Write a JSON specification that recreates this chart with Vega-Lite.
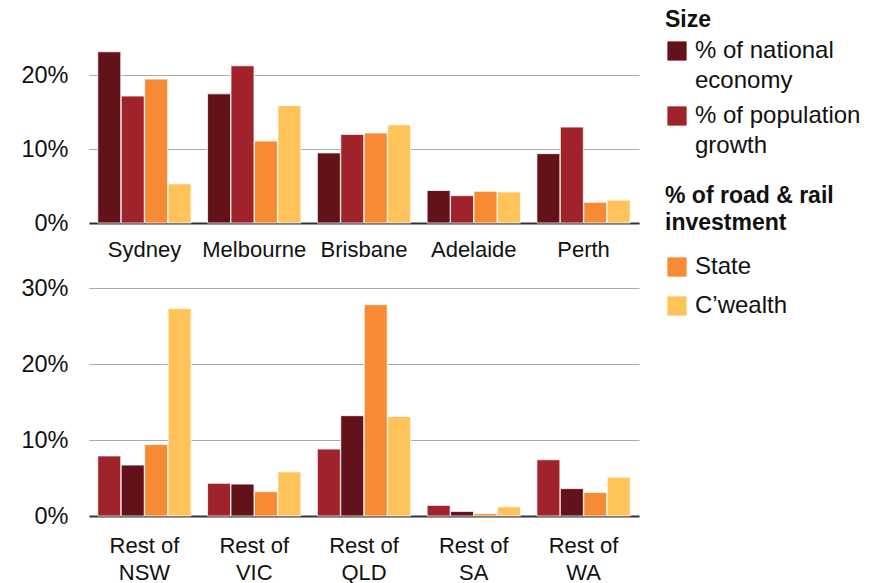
{
  "$schema": "https://vega.github.io/schema/vega-lite/v6.json",
  "background": "white",
  "padding": {"left": 20, "top": 9, "right": 5, "bottom": 5},
  "config": {
    "font": "Liberation Sans",
    "view": {"stroke": null},
    "style": {"guide-label": {"lineHeight": 30}},
    "bar": {"stroke": "white", "strokeWidth": 1, "strokeOpacity": 0.75},
    "axisX": {
      "title": null,
      "domain": true,
      "domainColor": "#333333",
      "domainWidth": 2,
      "ticks": false,
      "grid": false,
      "labelAngle": 0,
      "labelFontSize": 22,
      "labelColor": "#111111",
      "labelPadding": 16,
      "labelLineHeight": 27
    },
    "axisY": {
      "title": null,
      "domain": false,
      "ticks": false,
      "grid": true,
      "gridColor": "#a9adb3",
      "gridWidth": 1,
      "labelFontSize": 23.5,
      "labelColor": "#111111",
      "labelPadding": 21,
      "labelExpr": "datum.value + '%'"
    },
    "legend": {
      "offset": 26,
      "padding": 0,
      "symbolType": "square",
      "symbolSize": 400,
      "symbolStrokeWidth": 0,
      "labelFontSize": 24,
      "labelColor": "#111111",
      "labelOffset": 6,
      "labelLimit": 300,
      "titleFontSize": 23,
      "titleFontWeight": "bold",
      "titleColor": "#111111",
      "titlePadding": 8,
      "titleLineHeight": 27
    }
  },
  "datasets": {
    "shares": [
      {"area": "Capital city", "region": "Sydney", "kind": "Size", "series": "% of national economy", "share": 23.2},
      {"area": "Capital city", "region": "Sydney", "kind": "Size", "series": "% of population growth", "share": 17.2},
      {"area": "Capital city", "region": "Sydney", "kind": "Investment", "series": "State", "share": 19.5},
      {"area": "Capital city", "region": "Sydney", "kind": "Investment", "series": "C’wealth", "share": 5.3},
      {"area": "Capital city", "region": "Melbourne", "kind": "Size", "series": "% of national economy", "share": 17.5},
      {"area": "Capital city", "region": "Melbourne", "kind": "Size", "series": "% of population growth", "share": 21.3},
      {"area": "Capital city", "region": "Melbourne", "kind": "Investment", "series": "State", "share": 11.1},
      {"area": "Capital city", "region": "Melbourne", "kind": "Investment", "series": "C’wealth", "share": 15.9},
      {"area": "Capital city", "region": "Brisbane", "kind": "Size", "series": "% of national economy", "share": 9.5},
      {"area": "Capital city", "region": "Brisbane", "kind": "Size", "series": "% of population growth", "share": 12.0},
      {"area": "Capital city", "region": "Brisbane", "kind": "Investment", "series": "State", "share": 12.2},
      {"area": "Capital city", "region": "Brisbane", "kind": "Investment", "series": "C’wealth", "share": 13.3},
      {"area": "Capital city", "region": "Adelaide", "kind": "Size", "series": "% of national economy", "share": 4.4},
      {"area": "Capital city", "region": "Adelaide", "kind": "Size", "series": "% of population growth", "share": 3.7},
      {"area": "Capital city", "region": "Adelaide", "kind": "Investment", "series": "State", "share": 4.3},
      {"area": "Capital city", "region": "Adelaide", "kind": "Investment", "series": "C’wealth", "share": 4.2},
      {"area": "Capital city", "region": "Perth", "kind": "Size", "series": "% of national economy", "share": 9.4},
      {"area": "Capital city", "region": "Perth", "kind": "Size", "series": "% of population growth", "share": 13.0},
      {"area": "Capital city", "region": "Perth", "kind": "Investment", "series": "State", "share": 2.8},
      {"area": "Capital city", "region": "Perth", "kind": "Investment", "series": "C’wealth", "share": 3.1},
      {"area": "Rest of state", "region": "Rest of NSW", "kind": "Size", "series": "% of population growth", "share": 7.9},
      {"area": "Rest of state", "region": "Rest of NSW", "kind": "Size", "series": "% of national economy", "share": 6.7},
      {"area": "Rest of state", "region": "Rest of NSW", "kind": "Investment", "series": "State", "share": 9.4},
      {"area": "Rest of state", "region": "Rest of NSW", "kind": "Investment", "series": "C’wealth", "share": 27.3},
      {"area": "Rest of state", "region": "Rest of VIC", "kind": "Size", "series": "% of population growth", "share": 4.3},
      {"area": "Rest of state", "region": "Rest of VIC", "kind": "Size", "series": "% of national economy", "share": 4.2},
      {"area": "Rest of state", "region": "Rest of VIC", "kind": "Investment", "series": "State", "share": 3.2},
      {"area": "Rest of state", "region": "Rest of VIC", "kind": "Investment", "series": "C’wealth", "share": 5.8},
      {"area": "Rest of state", "region": "Rest of QLD", "kind": "Size", "series": "% of population growth", "share": 8.8},
      {"area": "Rest of state", "region": "Rest of QLD", "kind": "Size", "series": "% of national economy", "share": 13.2},
      {"area": "Rest of state", "region": "Rest of QLD", "kind": "Investment", "series": "State", "share": 27.8},
      {"area": "Rest of state", "region": "Rest of QLD", "kind": "Investment", "series": "C’wealth", "share": 13.1},
      {"area": "Rest of state", "region": "Rest of SA", "kind": "Size", "series": "% of population growth", "share": 1.4},
      {"area": "Rest of state", "region": "Rest of SA", "kind": "Size", "series": "% of national economy", "share": 0.6},
      {"area": "Rest of state", "region": "Rest of SA", "kind": "Investment", "series": "State", "share": 0.3},
      {"area": "Rest of state", "region": "Rest of SA", "kind": "Investment", "series": "C’wealth", "share": 1.2},
      {"area": "Rest of state", "region": "Rest of WA", "kind": "Size", "series": "% of population growth", "share": 7.4},
      {"area": "Rest of state", "region": "Rest of WA", "kind": "Size", "series": "% of national economy", "share": 3.6},
      {"area": "Rest of state", "region": "Rest of WA", "kind": "Investment", "series": "State", "share": 3.1},
      {"area": "Rest of state", "region": "Rest of WA", "kind": "Investment", "series": "C’wealth", "share": 5.1}
    ]
  },
  "spacing": 16,
  "resolve": {
    "scale": {"x": "independent", "y": "independent", "xOffset": "independent", "color": "shared", "fill": "shared"},
    "axis": {"x": "independent", "y": "independent"}
  },
  "vconcat": [
    {
      "width": 550,
      "height": 214,
      "data": {"name": "shares"},
      "transform": [{"filter": "datum.area == 'Capital city'"}],
      "encoding": {
        "x": {
          "field": "region", "type": "nominal",
          "scale": {"domain": ["Sydney", "Melbourne", "Brisbane", "Adelaide", "Perth"], "paddingInner": 0.15, "paddingOuter": 0.08}
        },
        "y": {
          "field": "share", "type": "quantitative",
          "scale": {"domain": [0, 29], "nice": false},
          "axis": {"values": [0, 10, 20]}
        },
        "xOffset": {
          "field": "series", "type": "nominal",
          "scale": {"domain": ["% of national economy", "% of population growth", "State", "C’wealth"], "paddingInner": 0.02}
        }
      },
      "layer": [
        {
          "transform": [{"filter": "datum.kind == 'Size'"}],
          "mark": "bar",
          "encoding": {
            "color": {
              "field": "series", "type": "nominal",
              "scale": {"domain": ["% of national economy", "% of population growth"], "range": ["#63121a", "#a0222a"]},
              "legend": {
                "title": "Size",
                "orient": "right",
                "rowPadding": 11,
                "titlePadding": 7,
                "labelExpr": "datum.label == '% of national economy' ? ['% of national', 'economy'] : ['% of population', 'growth']"
              }
            }
          }
        },
        {
          "transform": [{"filter": "datum.kind == 'Investment'"}],
          "mark": "bar",
          "encoding": {
            "fill": {
              "field": "series", "type": "nominal",
              "scale": {"domain": ["State", "C’wealth"], "range": ["#f68b33", "#ffc35a"]},
              "legend": {
                "title": ["% of road & rail", "investment"],
                "orient": "none",
                "legendX": 576,
                "legendY": 176,
                "titlePadding": 20,
                "rowPadding": 15
              }
            }
          }
        }
      ]
    },
    {
      "width": 550,
      "height": 228,
      "data": {"name": "shares"},
      "transform": [{"filter": "datum.area == 'Rest of state'"}],
      "encoding": {
        "x": {
          "field": "region", "type": "nominal",
          "scale": {"domain": ["Rest of NSW", "Rest of VIC", "Rest of QLD", "Rest of SA", "Rest of WA"], "paddingInner": 0.15, "paddingOuter": 0.08},
          "axis": {"labelExpr": "['Rest of', replace(datum.label, 'Rest of ', '')]", "labelPadding": 19}
        },
        "y": {
          "field": "share", "type": "quantitative",
          "scale": {"domain": [0, 30], "nice": false},
          "axis": {"values": [0, 10, 20, 30]}
        },
        "xOffset": {
          "field": "series", "type": "nominal",
          "scale": {"domain": ["% of population growth", "% of national economy", "State", "C’wealth"], "paddingInner": 0.02}
        }
      },
      "layer": [
        {
          "transform": [{"filter": "datum.kind == 'Size'"}],
          "mark": "bar",
          "encoding": {
            "color": {"field": "series", "type": "nominal"}
          }
        },
        {
          "transform": [{"filter": "datum.kind == 'Investment'"}],
          "mark": "bar",
          "encoding": {
            "fill": {"field": "series", "type": "nominal"}
          }
        }
      ]
    }
  ]
}
